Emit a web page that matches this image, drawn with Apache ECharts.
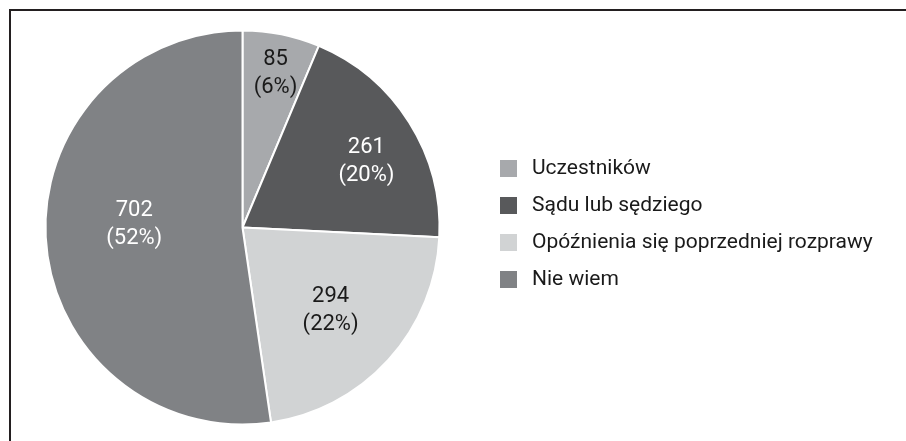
<!DOCTYPE html>
<html>
<head>
<meta charset="utf-8">
<script src="https://cdn.jsdelivr.net/npm/echarts@6/dist/echarts.min.js"></script>
<style>
html,body{margin:0;padding:0;background:#fff;}
#chart{width:906px;height:441px;}
</style>
</head>
<body>
<div id="chart"></div>
<script>
const categories = ['Uczestników', 'Sądu lub sędziego', 'Opóźnienia się poprzedniej rozprawy', 'Nie wiem'];
const values = [85, 261, 294, 702];
const percentLabels = ['6%', '20%', '22%', '52%'];

const colors = ['#a7a9ac', '#58595b', '#d1d3d4', '#808285'];
const labelColors = ['#1a1a1a', '#ffffff', '#1a1a1a', '#ffffff'];
// label nudges (px) relative to the default inside-label anchor
const labelOffsets = [[13, -55], [38, -12], [13, 15], [-7, -10]];

const FONT = 'Roboto, "Noto Sans", sans-serif';

const data = values.map((v, i) => ({
  name: categories[i],
  value: v,
  itemStyle: { color: colors[i] },
  label: {
    color: labelColors[i],
    offset: labelOffsets[i],
    formatter: v + '\n(' + percentLabels[i] + ')'
  }
}));

const chart = echarts.init(document.getElementById('chart'), null, { renderer: 'canvas' });
chart.setOption({
  backgroundColor: '#ffffff',
  animation: false,
  graphic: [
    { type: 'line', shape: { x1: 9, y1: 10, x2: 906, y2: 10 }, style: { stroke: '#231f20', lineWidth: 2 } },
    { type: 'line', shape: { x1: 10, y1: 9, x2: 10, y2: 441 }, style: { stroke: '#231f20', lineWidth: 2 } }
  ],
  legend: {
    orient: 'vertical',
    left: 500,
    top: 158,
    padding: 0,
    itemWidth: 17,
    itemHeight: 17,
    itemGap: 16,
    icon: 'rect',
    itemStyle: { borderWidth: 0, borderColor: 'transparent' },
    data: categories,
    textStyle: {
      fontFamily: FONT,
      fontSize: 21,
      lineHeight: 21,
      color: '#1a1a1a',
      padding: [0, 0, 0, 10]
    }
  },
  series: [{
    type: 'pie',
    center: [242.5, 227.5],
    radius: 197,
    startAngle: 90,
    clockwise: true,
    avoidLabelOverlap: false,
    itemStyle: { borderColor: '#ffffff', borderWidth: 2 },
    label: {
      show: true,
      position: 'inside',
      fontFamily: FONT,
      fontSize: 22,
      lineHeight: 28,
      align: 'center'
    },
    labelLine: { show: false },
    emphasis: { disabled: true },
    data: data
  }]
});
</script>
</body>
</html>
